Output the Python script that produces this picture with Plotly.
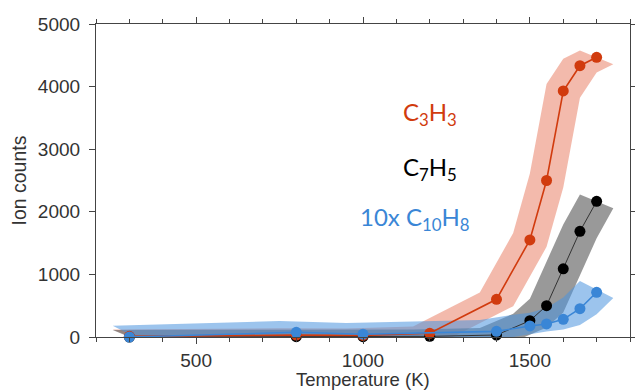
import plotly.graph_objects as go

# ---- data ----
temperature = [300, 800, 1000, 1200, 1400, 1500, 1550, 1600, 1650, 1700]
c3h3 = [10, 30, 25, 59, 602, 1550, 2500, 3930, 4334, 4468]
c7h5 = [0, 5, 5, 10, 32, 260, 500, 1090, 1688, 2167]
c10h8_x10 = [0, 75, 45, None, 90, 176, 208, 282, 452, 714]

# uncertainty bands: temperature error (K) and count error (up, down)
temp_err = 50
c3h3_err = (110, 110)
c7h5_err = (110, 110)
c10h8_err = (180, 90)

RED = "#D13B0E"
BLACK = "#000000"
BLUE = "#3A86D6"
AX = "#444444"
TXT = "#333333"
SANS = "Liberation Sans, Arial, sans-serif"


def band(xs, ys, err):
    pts = [(x, y) for x, y in zip(xs, ys) if y is not None]
    bx = [x - temp_err for x, _ in pts] + [x + temp_err for x, _ in reversed(pts)]
    by = [y + err[0] for _, y in pts] + [y - err[1] for _, y in reversed(pts)]
    return bx, by


fig = go.Figure()

for ys, err, fc in [
    (c3h3, c3h3_err, "rgba(232,118,90,0.5)"),
    (c7h5, c7h5_err, "rgba(105,105,105,0.68)"),
    (c10h8_x10, c10h8_err, "rgba(75,148,222,0.55)"),
]:
    bx, by = band(temperature, ys, err)
    fig.add_trace(go.Scatter(x=bx, y=by, fill="toself", fillcolor=fc,
                             line=dict(width=0), mode="lines",
                             hoverinfo="skip", showlegend=False))

for ys, col, mcol, lw in [(c7h5, "#333333", BLACK, 1), (c3h3, RED, RED, 1.6),
                          (c10h8_x10, BLUE, BLUE, 1.6)]:
    fig.add_trace(go.Scatter(x=temperature, y=ys, mode="lines+markers",
                             connectgaps=True,
                             line=dict(color=col, width=lw),
                             marker=dict(color=mcol, size=11),
                             cliponaxis=False, showlegend=False))

W, H = 635, 390
L, R, T, B = 96, 5, 24, 53
x0, x1, y0, y1 = 200, 1800, 0, 5000


def to_data(px, py):
    return (x0 + (px - L) / (W - L - R) * (x1 - x0),
            y1 - (py - T) / (H - T - B) * (y1 - y0))


ann_font = "Lato, Open Sans, sans-serif"
for text, px, py, col in [
    ("C<sub>3</sub>H<sub>3</sub>", 430, 113, RED),
    ("C<sub>7</sub>H<sub>5</sub>", 430, 168, BLACK),
    ("10x C<sub>10</sub>H<sub>8</sub>", 415, 218, BLUE),
]:
    ax_, ay_ = to_data(px, py)
    fig.add_annotation(x=ax_, y=ay_, xref="x", yref="y", text=text, showarrow=False,
                       font=dict(family=ann_font, size=24, color=col))

# axis titles
fig.add_annotation(x=0.5, y=0, xref="paper", yref="paper", text="Temperature (K)",
                   showarrow=False, yanchor="middle", yshift=-42,
                   font=dict(family=SANS, size=18.5, color=TXT))
fig.add_annotation(x=0, y=0.5, xref="paper", yref="paper", text="Ion counts",
                   showarrow=False, xanchor="center", xshift=-78, textangle=-90,
                   font=dict(family=SANS, size=19.5, color=TXT))

axis_common = dict(showline=True, linecolor=AX, linewidth=1.2, mirror="allticks",
                   ticks="outside", ticklen=6, tickwidth=1, tickcolor=AX,
                   showgrid=False, zeroline=False, automargin=False,
                   tickfont=dict(family=SANS, size=19, color=TXT))

fig.update_xaxes(range=[x0, x1], tickvals=[500, 1000, 1500], ticklabelstandoff=0,
                 minor=dict(dtick=100, tick0=0, ticks="outside", ticklen=4,
                            tickcolor=AX, showgrid=False),
                 **axis_common)
fig.update_yaxes(range=[y0, y1], dtick=1000, tick0=0, ticklabelstandoff=5,
                 **axis_common)

fig.update_layout(width=W, height=H, margin=dict(l=L, r=R, t=T, b=B),
                  plot_bgcolor="white", paper_bgcolor="white")

fig.write_html("out.html", config={"displayModeBar": False},
               post_script="document.body.style.margin='0px';document.body.style.overflow='hidden';")
